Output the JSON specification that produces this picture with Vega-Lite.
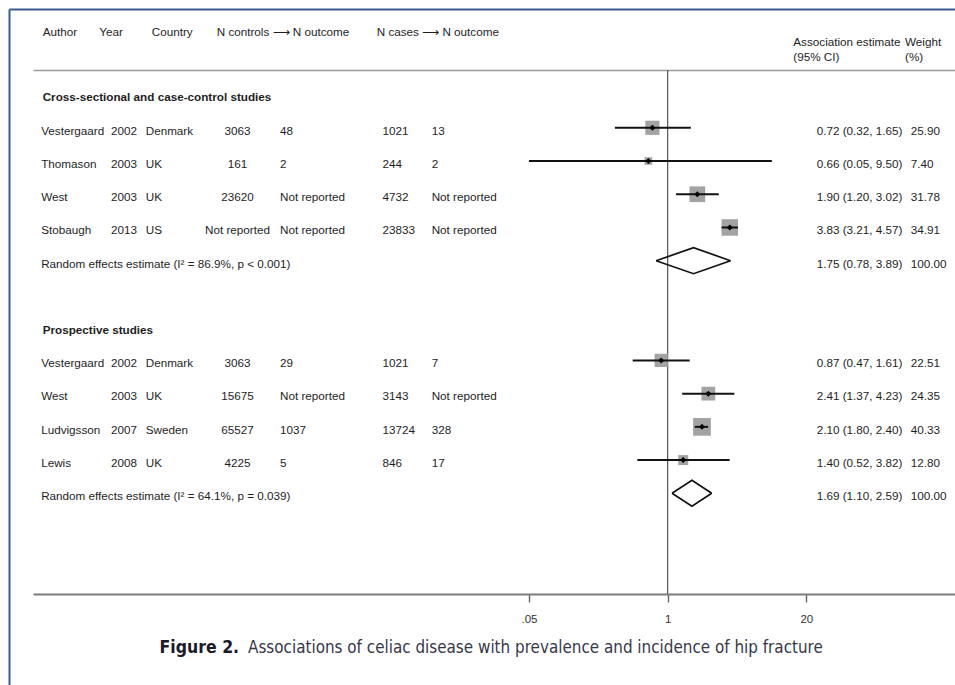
{
  "$schema": "https://vega.github.io/schema/vega-lite/v6.json",
  "width": 946,
  "height": 676,
  "padding": {"left": 9, "top": 9, "right": 0, "bottom": 0},
  "autosize": {"type": "none"},
  "background": "white",
  "datasets": {
    "studies": [
      {"id": "cs", "kind": "section", "label": "Cross-sectional and case-control studies"},
      {"id": "cs1", "kind": "study", "label": "Vestergaard", "year": "2002", "country": "Denmark", "nctrl": "3063", "nctrl_out": "48", "ncase": "1021", "ncase_out": "13", "est": 0.72, "lo": 0.32, "hi": 1.65, "weight": 25.90},
      {"id": "cs2", "kind": "study", "label": "Thomason", "year": "2003", "country": "UK", "nctrl": "161", "nctrl_out": "2", "ncase": "244", "ncase_out": "2", "est": 0.66, "lo": 0.05, "hi": 9.50, "weight": 7.40},
      {"id": "cs3", "kind": "study", "label": "West", "year": "2003", "country": "UK", "nctrl": "23620", "nctrl_out": "Not reported", "ncase": "4732", "ncase_out": "Not reported", "est": 1.90, "lo": 1.20, "hi": 3.02, "weight": 31.78},
      {"id": "cs4", "kind": "study", "label": "Stobaugh", "year": "2013", "country": "US", "nctrl": "Not reported", "nctrl_out": "Not reported", "ncase": "23833", "ncase_out": "Not reported", "est": 3.83, "lo": 3.21, "hi": 4.57, "weight": 34.91},
      {"id": "cs_re", "kind": "pooled", "label": "Random effects estimate (I² = 86.9%, p < 0.001)", "est": 1.75, "lo": 0.78, "hi": 3.89, "weight": 100.00},
      {"id": "pr", "kind": "section", "label": "Prospective studies"},
      {"id": "pr1", "kind": "study", "label": "Vestergaard", "year": "2002", "country": "Denmark", "nctrl": "3063", "nctrl_out": "29", "ncase": "1021", "ncase_out": "7", "est": 0.87, "lo": 0.47, "hi": 1.61, "weight": 22.51},
      {"id": "pr2", "kind": "study", "label": "West", "year": "2003", "country": "UK", "nctrl": "15675", "nctrl_out": "Not reported", "ncase": "3143", "ncase_out": "Not reported", "est": 2.41, "lo": 1.37, "hi": 4.23, "weight": 24.35},
      {"id": "pr3", "kind": "study", "label": "Ludvigsson", "year": "2007", "country": "Sweden", "nctrl": "65527", "nctrl_out": "1037", "ncase": "13724", "ncase_out": "328", "est": 2.10, "lo": 1.80, "hi": 2.40, "weight": 40.33},
      {"id": "pr4", "kind": "study", "label": "Lewis", "year": "2008", "country": "UK", "nctrl": "4225", "nctrl_out": "5", "ncase": "846", "ncase_out": "17", "est": 1.40, "lo": 0.52, "hi": 3.82, "weight": 12.80},
      {"id": "pr_re", "kind": "pooled", "label": "Random effects estimate (I² = 64.1%, p = 0.039)", "est": 1.69, "lo": 1.10, "hi": 2.59, "weight": 100.00}
    ],
    "header": [
      {"author": "Author", "year": "Year", "country": "Country", "ctrl": "N controls ⟶ N outcome", "cases": "N cases ⟶ N outcome", "estimate": "Association estimate\n(95% CI)", "weight": "Weight\n(%)"}
    ],
    "caption": [
      {"figure": "Figure 2.", "title": "Associations of celiac disease with prevalence and incidence of hip fracture"}
    ]
  },
  "config": {
    "view": {"stroke": null},
    "axisY": {"domainColor": "#3a5a92", "domainWidth": 2, "ticks": false, "labels": false, "grid": false, "titleOpacity": 0},
    "text": {"font": "Liberation Sans", "fontSize": 11.7, "color": "#1e1e1e"}
  },
  "resolve": {"scale": {"x": "independent"}, "axis": {"x": "independent"}},
  "layer": [
    {
      "data": {"name": "header"},
      "mark": {"type": "text", "align": "left", "baseline": "middle", "dy": 3.6},
      "encoding": {
        "x": {"datum": 3.56, "type": "quantitative", "scale": {"domain": [0, 100]},
              "axis": {"orient": "top", "domain": true, "domainColor": "#3a5a92", "domainWidth": 2, "ticks": false, "labels": false, "grid": false, "title": null}},
        "y": {"datum": "head", "type": "nominal", "title": null,
              "scale": {"type": "band", "domain": ["head", "hline", "cs", "cs1", "cs2", "cs3", "cs4", "cs_re", "gap", "pr", "pr1", "pr2", "pr3", "pr4", "pr_re", "b1", "b2", "axis", "ticks", "caption"],
                        "paddingInner": 0, "paddingOuter": 0.1716, "align": 0.218, "round": false}},
        "text": {"field": "author"}
      }
    },
    {
      "data": {"name": "header"},
      "mark": {"type": "text", "align": "left", "baseline": "middle", "dy": 3.6},
      "encoding": {
        "x": {"datum": 9.545, "type": "quantitative", "scale": {"domain": [0, 100]}, "axis": null},
        "y": {"datum": "head", "type": "nominal", "title": null},
        "text": {"field": "year"}
      }
    },
    {
      "data": {"name": "header"},
      "mark": {"type": "text", "align": "left", "baseline": "middle", "dy": 3.6},
      "encoding": {
        "x": {"datum": 15.085, "type": "quantitative", "scale": {"domain": [0, 100]}, "axis": null},
        "y": {"datum": "head", "type": "nominal", "title": null},
        "text": {"field": "country"}
      }
    },
    {
      "data": {"name": "header"},
      "mark": {"type": "text", "align": "left", "baseline": "middle", "dy": 3.6},
      "encoding": {
        "x": {"datum": 21.956, "type": "quantitative", "scale": {"domain": [0, 100]}, "axis": null},
        "y": {"datum": "head", "type": "nominal", "title": null},
        "text": {"field": "ctrl"}
      }
    },
    {
      "data": {"name": "header"},
      "mark": {"type": "text", "align": "left", "baseline": "middle", "dy": 3.6},
      "encoding": {
        "x": {"datum": 38.869, "type": "quantitative", "scale": {"domain": [0, 100]}, "axis": null},
        "y": {"datum": "head", "type": "nominal", "title": null},
        "text": {"field": "cases"}
      }
    },
    {
      "data": {"name": "header"},
      "mark": {"type": "text", "align": "left", "baseline": "top", "dy": 8.8, "lineBreak": "\n", "lineHeight": 15},
      "encoding": {
        "x": {"datum": 82.907, "type": "quantitative", "scale": {"domain": [0, 100]}, "axis": null},
        "y": {"datum": "head", "type": "nominal", "title": null},
        "text": {"field": "estimate"}
      }
    },
    {
      "data": {"name": "header"},
      "mark": {"type": "text", "align": "left", "baseline": "top", "dy": 8.8, "lineBreak": "\n", "lineHeight": 15},
      "encoding": {
        "x": {"datum": 94.72, "type": "quantitative", "scale": {"domain": [0, 100]}, "axis": null},
        "y": {"datum": "head", "type": "nominal", "title": null},
        "text": {"field": "weight"}
      }
    },
    {
      "data": {"name": "studies"},
      "transform": [{"filter": "datum.kind === 'section'"}],
      "mark": {"type": "text", "align": "left", "baseline": "middle", "dy": 2.8, "fontWeight": "bold"},
      "encoding": {
        "x": {"datum": 3.56, "type": "quantitative", "scale": {"domain": [0, 100]}, "axis": null},
        "y": {"field": "id", "type": "nominal", "title": null},
        "text": {"field": "label"}
      }
    },
    {
      "data": {"name": "studies"},
      "transform": [{"filter": "datum.kind !== 'section'"}],
      "mark": {"type": "text", "align": "left", "baseline": "middle", "dy": 2.8},
      "encoding": {
        "x": {"datum": 3.4, "type": "quantitative", "scale": {"domain": [0, 100]}, "axis": null},
        "y": {"field": "id", "type": "nominal", "title": null},
        "text": {"field": "label"}
      }
    },
    {
      "data": {"name": "studies"},
      "transform": [{"filter": "datum.kind === 'study'"}],
      "mark": {"type": "text", "align": "left", "baseline": "middle", "dy": 2.8},
      "encoding": {
        "x": {"datum": 10.78, "type": "quantitative", "scale": {"domain": [0, 100]}, "axis": null},
        "y": {"field": "id", "type": "nominal", "title": null},
        "text": {"field": "year"}
      }
    },
    {
      "data": {"name": "studies"},
      "transform": [{"filter": "datum.kind === 'study'"}],
      "mark": {"type": "text", "align": "left", "baseline": "middle", "dy": 2.8},
      "encoding": {
        "x": {"datum": 14.45, "type": "quantitative", "scale": {"domain": [0, 100]}, "axis": null},
        "y": {"field": "id", "type": "nominal", "title": null},
        "text": {"field": "country"}
      }
    },
    {
      "data": {"name": "studies"},
      "transform": [{"filter": "datum.kind === 'study'"}],
      "mark": {"type": "text", "align": "center", "baseline": "middle", "dy": 2.8},
      "encoding": {
        "x": {"datum": 24.15, "type": "quantitative", "scale": {"domain": [0, 100]}, "axis": null},
        "y": {"field": "id", "type": "nominal", "title": null},
        "text": {"field": "nctrl"}
      }
    },
    {
      "data": {"name": "studies"},
      "transform": [{"filter": "datum.kind === 'study'"}],
      "mark": {"type": "text", "align": "left", "baseline": "middle", "dy": 2.8},
      "encoding": {
        "x": {"datum": 28.65, "type": "quantitative", "scale": {"domain": [0, 100]}, "axis": null},
        "y": {"field": "id", "type": "nominal", "title": null},
        "text": {"field": "nctrl_out"}
      }
    },
    {
      "data": {"name": "studies"},
      "transform": [{"filter": "datum.kind === 'study'"}],
      "mark": {"type": "text", "align": "left", "baseline": "middle", "dy": 2.8},
      "encoding": {
        "x": {"datum": 39.48, "type": "quantitative", "scale": {"domain": [0, 100]}, "axis": null},
        "y": {"field": "id", "type": "nominal", "title": null},
        "text": {"field": "ncase"}
      }
    },
    {
      "data": {"name": "studies"},
      "transform": [{"filter": "datum.kind === 'study'"}],
      "mark": {"type": "text", "align": "left", "baseline": "middle", "dy": 2.8},
      "encoding": {
        "x": {"datum": 44.68, "type": "quantitative", "scale": {"domain": [0, 100]}, "axis": null},
        "y": {"field": "id", "type": "nominal", "title": null},
        "text": {"field": "ncase_out"}
      }
    },
    {
      "data": {"name": "studies"},
      "transform": [
        {"filter": "datum.kind !== 'section'"},
        {"calculate": "format(datum.est, '.2f') + ' (' + format(datum.lo, '.2f') + ', ' + format(datum.hi, '.2f') + ')'", "as": "ci_text"}
      ],
      "mark": {"type": "text", "align": "left", "baseline": "middle", "dy": 2.8},
      "encoding": {
        "x": {"datum": 85.38, "type": "quantitative", "scale": {"domain": [0, 100]}, "axis": null},
        "y": {"field": "id", "type": "nominal", "title": null},
        "text": {"field": "ci_text"}
      }
    },
    {
      "data": {"name": "studies"},
      "transform": [{"filter": "datum.kind !== 'section'"}],
      "mark": {"type": "text", "align": "left", "baseline": "middle", "dy": 2.8},
      "encoding": {
        "x": {"datum": 95.32, "type": "quantitative", "scale": {"domain": [0, 100]}, "axis": null},
        "y": {"field": "id", "type": "nominal", "title": null},
        "text": {"field": "weight", "type": "quantitative", "format": ".2f"}
      }
    },
    {
      "data": {"name": "caption"},
      "mark": {"type": "text", "align": "left", "baseline": "middle", "dy": -11, "font": "DejaVu Sans Condensed, Liberation Sans, sans-serif", "fontSize": 17.5, "fontWeight": "bold", "color": "#1a1a2a"},
      "encoding": {
        "x": {"datum": 15.92, "type": "quantitative", "scale": {"domain": [0, 100]}, "axis": null},
        "y": {"datum": "caption", "type": "nominal", "title": null},
        "text": {"field": "figure"}
      }
    },
    {
      "data": {"name": "caption"},
      "mark": {"type": "text", "align": "left", "baseline": "middle", "dy": -11, "font": "DejaVu Sans Condensed, Liberation Sans, sans-serif", "fontSize": 16.9, "color": "#37374a"},
      "encoding": {
        "x": {"datum": 25.27, "type": "quantitative", "scale": {"domain": [0, 100]}, "axis": null},
        "y": {"datum": "caption", "type": "nominal", "title": null},
        "text": {"field": "title"}
      }
    },
    {
      "data": {"name": "studies"},
      "transform": [{"filter": "datum.id === 'cs'"}],
      "mark": {"type": "rule", "color": "#5e5e5e", "strokeWidth": 1.3, "yOffset": 8.67, "y2Offset": 1},
      "encoding": {
        "x": {"datum": 1, "type": "quantitative",
              "scale": {"type": "log", "domain": [1.11e-6, 497], "range": [24, 946], "nice": false},
              "axis": {"orient": "top", "offset": -61, "domain": true, "domainColor": "#9c9c9c", "domainWidth": 1.6, "ticks": false, "labels": false, "grid": false, "title": null}},
        "y": {"datum": "hline", "type": "nominal", "title": null},
        "y2": {"datum": "axis"}
      }
    },
    {
      "data": {"name": "studies"},
      "transform": [{"filter": "datum.kind === 'study'"}],
      "mark": {"type": "square", "color": "#a3a3a3", "opacity": 1},
      "encoding": {
        "x": {"field": "est", "type": "quantitative",
              "scale": {"type": "log", "domain": [1.11e-6, 497], "range": [24, 946], "nice": false}, "axis": null},
        "y": {"field": "id", "type": "nominal", "title": null},
        "size": {"field": "weight", "type": "quantitative", "scale": {"domain": [0, 100], "range": [0, 780]}, "legend": null}
      }
    },
    {
      "data": {"name": "studies"},
      "transform": [{"filter": "datum.kind === 'study'"}],
      "mark": {"type": "rule", "color": "#121212", "strokeWidth": 2},
      "encoding": {
        "x": {"field": "lo", "type": "quantitative",
              "scale": {"type": "log", "domain": [1.11e-6, 497], "range": [24, 946], "nice": false},
              "axis": {"orient": "bottom", "offset": -91, "values": [0.05, 1, 20],
                       "labelExpr": "replace(format(datum.value, '~g'), '0.', '.')",
                       "domain": true, "domainColor": "#7d7d7d", "domainWidth": 2.2,
                       "ticks": true, "tickColor": "#666666", "tickWidth": 1.4, "tickSize": 8,
                       "labelFont": "Liberation Sans", "labelFontSize": 11.5, "labelColor": "#333333", "labelPadding": 11,
                       "labelFlush": false, "labelOverlap": false, "grid": false, "title": null}},
        "x2": {"field": "hi"},
        "y": {"field": "id", "type": "nominal", "title": null}
      }
    },
    {
      "data": {"name": "studies"},
      "transform": [{"filter": "datum.kind === 'study'"}],
      "mark": {"type": "point", "shape": "diamond", "filled": true, "color": "#000000", "size": 36, "opacity": 1},
      "encoding": {
        "x": {"field": "est", "type": "quantitative",
              "scale": {"type": "log", "domain": [1.11e-6, 497], "range": [24, 946], "nice": false}, "axis": null},
        "y": {"field": "id", "type": "nominal", "title": null}
      }
    },
    {
      "data": {"name": "studies"},
      "transform": [
        {"filter": "datum.kind === 'pooled'"},
        {"fold": ["lo", "est", "hi"], "as": ["vertex", "value"]},
        {"lookup": "vertex", "from": {"data": {"values": [{"vertex": "lo", "up": 0, "down": 0}, {"vertex": "est", "up": -1, "down": 1}, {"vertex": "hi", "up": 0, "down": 0}]}, "key": "vertex", "fields": ["up", "down"]}}
      ],
      "mark": {"type": "line", "color": "#111111", "strokeWidth": 1.7, "strokeJoin": "miter"},
      "encoding": {
        "x": {"field": "value", "type": "quantitative",
              "scale": {"type": "log", "domain": [1.11e-6, 497], "range": [24, 946], "nice": false}, "axis": null},
        "y": {"field": "id", "type": "nominal", "title": null},
        "yOffset": {"field": "up", "type": "quantitative", "scale": {"domain": [-1, 1], "range": [3.6, 29.6]}},
        "detail": {"field": "id"},
        "order": {"field": "value", "type": "quantitative"}
      }
    },
    {
      "data": {"name": "studies"},
      "transform": [
        {"filter": "datum.kind === 'pooled'"},
        {"fold": ["lo", "est", "hi"], "as": ["vertex", "value"]},
        {"lookup": "vertex", "from": {"data": {"values": [{"vertex": "lo", "up": 0, "down": 0}, {"vertex": "est", "up": -1, "down": 1}, {"vertex": "hi", "up": 0, "down": 0}]}, "key": "vertex", "fields": ["up", "down"]}}
      ],
      "mark": {"type": "line", "color": "#111111", "strokeWidth": 1.7, "strokeJoin": "miter"},
      "encoding": {
        "x": {"field": "value", "type": "quantitative",
              "scale": {"type": "log", "domain": [1.11e-6, 497], "range": [24, 946], "nice": false}, "axis": null},
        "y": {"field": "id", "type": "nominal", "title": null},
        "yOffset": {"field": "down", "type": "quantitative", "scale": {"domain": [-1, 1], "range": [3.6, 29.6]}},
        "detail": {"field": "id"},
        "order": {"field": "value", "type": "quantitative"}
      }
    }
  ]
}
